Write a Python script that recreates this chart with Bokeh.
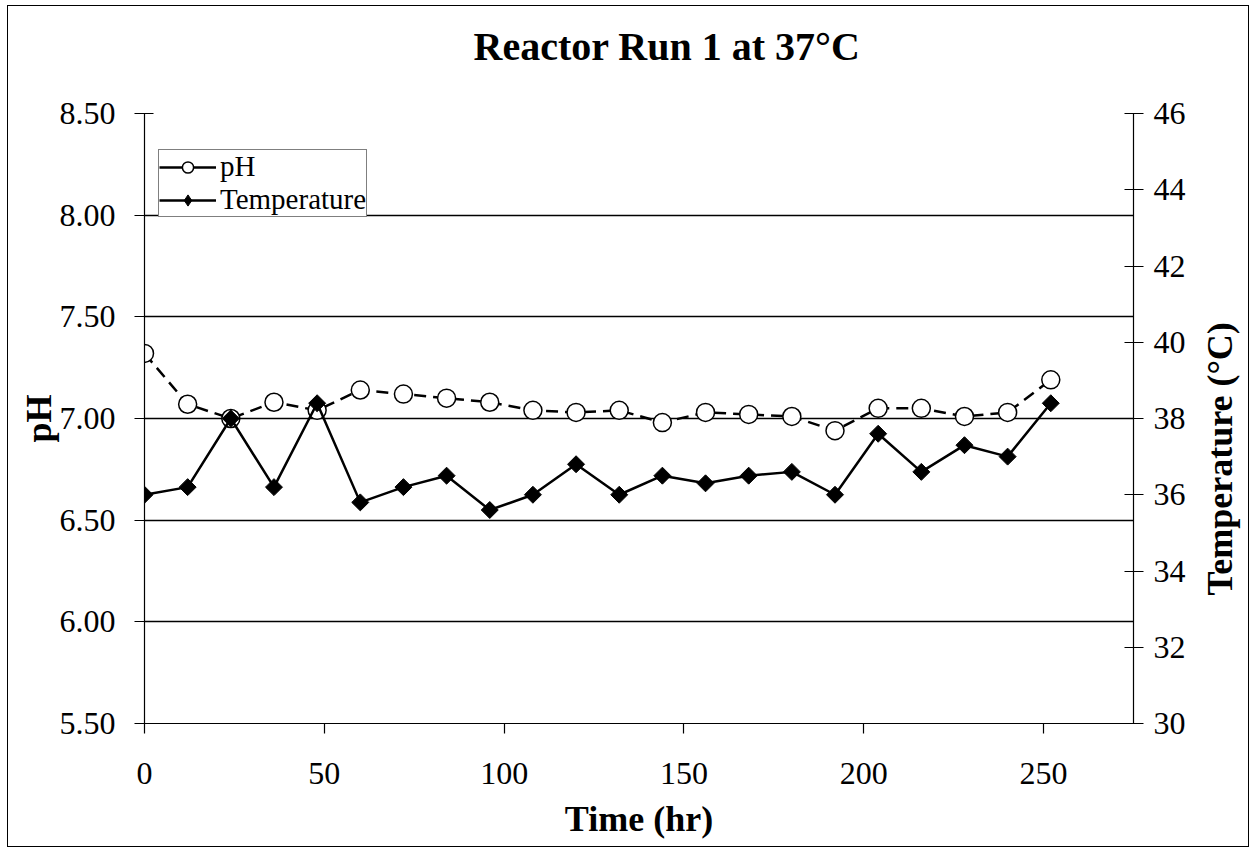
import math
from bokeh.plotting import figure
from bokeh.layouts import row, column
from bokeh.models import (Range1d, LinearAxis, FixedTicker, NumeralTickFormatter,
                          Legend, LegendItem)
from bokeh.embed import file_html
from bokeh.resources import INLINE

# ---- data ----
time_hr = [0, 12, 24, 36, 48, 60, 72, 84, 96, 108, 120, 132, 144, 156, 168,
           180, 192, 204, 216, 228, 240, 252]
ph = [7.32, 7.07, 7.00, 7.08, 7.04, 7.14, 7.12, 7.10, 7.08, 7.04, 7.03, 7.04,
      6.98, 7.03, 7.02, 7.01, 6.94, 7.05, 7.05, 7.01, 7.03, 7.19]
temp_c = [36.0, 36.2, 38.0, 36.2, 38.4, 35.8, 36.2, 36.5, 35.6, 36.0, 36.8, 36.0,
          36.5, 36.3, 36.5, 36.6, 36.0, 37.6, 36.6, 37.3, 37.0, 38.4]
x_ticks = [0, 50, 100, 150, 200, 250]
ph_ticks = [5.5, 6.0, 6.5, 7.0, 7.5, 8.0, 8.5]
temp_ticks = [30, 32, 34, 36, 38, 40, 42, 44, 46]

FONT = "Liberation Serif"

# ---- title strip (page y 6..96) ----
strip = figure(width=1240, height=90, output_backend="svg", toolbar_location=None,
               x_axis_type=None, y_axis_type=None,
               title="Reactor Run 1 at 37°C", title_location="above",
               min_border_left=0, min_border_right=0,
               min_border_top=0, min_border_bottom=0)
strip.outline_line_color = None
strip.background_fill_color = "white"
strip.border_fill_color = "white"
strip.title.text_font = FONT
strip.title.text_font_size = "40px"
strip.title.text_font_style = "bold"
strip.title.text_color = "black"
strip.title.align = "left"
strip.title.offset = 465
strip.title.standoff = 30

# ---- main chart (page x 8..1193, y 96..846) ----
p = figure(width=1185, height=750, output_backend="svg", toolbar_location=None,
           x_range=Range1d(0, 275), y_range=Range1d(5.5, 8.5),
           min_border_left=136, min_border_right=60,
           min_border_top=17, min_border_bottom=123)
p.outline_line_color = None
p.background_fill_color = "white"
p.border_fill_color = "white"

# x axis
xa = p.below[0]
xa.ticker = FixedTicker(ticks=x_ticks)
xa.axis_label = "Time (hr)"
xa.axis_label_text_font = FONT
xa.axis_label_text_font_size = "36px"
xa.axis_label_text_font_style = "bold"
xa.axis_label_text_color = "black"
xa.axis_label_standoff = 12
xa.major_label_text_font = FONT
xa.major_label_text_font_size = "32px"
xa.major_label_text_color = "black"
xa.major_label_standoff = 29
xa.major_tick_in = 0
xa.major_tick_out = 10
xa.minor_tick_line_color = None
xa.axis_line_color = "black"
xa.axis_line_width = 1.2
xa.major_tick_line_width = 1.2

# left axis
ya = p.left[0]
ya.ticker = FixedTicker(ticks=ph_ticks)
ya.formatter = NumeralTickFormatter(format="0.00")
ya.axis_label = "pH"
ya.axis_label_text_font = FONT
ya.axis_label_text_font_size = "36px"
ya.axis_label_text_font_style = "bold"
ya.axis_label_text_color = "black"
ya.axis_label_standoff = -2
ya.major_label_text_font = FONT
ya.major_label_text_font_size = "32px"
ya.major_label_text_color = "black"
ya.major_label_standoff = 19
ya.major_tick_in = 9
ya.major_tick_out = 10
ya.minor_tick_line_color = None
ya.axis_line_width = 1.2
ya.major_tick_line_width = 1.2

# right axis (ticks and numbers)
p.extra_y_ranges = {"temp": Range1d(30, 46)}
ra = LinearAxis(y_range_name="temp")
ra.ticker = FixedTicker(ticks=temp_ticks)
ra.major_label_text_font = FONT
ra.major_label_text_font_size = "32px"
ra.major_label_text_color = "black"
ra.major_label_standoff = 10
ra.major_tick_in = 9
ra.major_tick_out = 10
ra.minor_tick_line_color = None
ra.axis_line_width = 1.2
ra.major_tick_line_width = 1.2
p.add_layout(ra, "right")

# grid
p.xgrid.visible = False
p.ygrid.ticker = FixedTicker(ticks=ph_ticks)
p.ygrid.grid_line_color = "black"
p.ygrid.grid_line_width = 1.3

# series
r1 = p.line(time_hr, ph, line_dash="12 7", line_width=2.5, line_color="black")
c1 = p.scatter(time_hr, ph, marker="circle", size=18, fill_color="white",
               line_color="black", line_width=1.5)
r2 = p.line(time_hr, temp_c, y_range_name="temp", line_width=2.5, line_color="black")
s2 = p.scatter(time_hr, temp_c, y_range_name="temp", marker="square", size=12,
               angle=math.pi / 4, fill_color="black", line_color="black", line_width=1)

# legend-only proxies (solid line sample and diamond symbol as in the original key),
# each holding one point far outside the visible ranges
lp = p.line(x=[-1000, -999], y=[-1000, -1000], line_width=2.5, line_color="black")
lc = p.scatter(x=[-1000], y=[-1000], marker="circle", size=16, fill_color="white",
               line_color="black", line_width=1.5)
ld = p.scatter(x=[-1000], y=[-1000], marker="diamond", size=24, fill_color="black",
               line_color="black", line_width=1)

legend = Legend(items=[LegendItem(label="pH", renderers=[lp, lc]),
                       LegendItem(label="Temperature", renderers=[lp, ld])],
                location=(14, 506))
legend.label_text_font = FONT
legend.label_text_font_size = "29px"
legend.label_text_color = "black"
legend.padding = 0
legend.spacing = 0
legend.margin = 0
legend.glyph_width = 57
legend.glyph_height = 28
legend.label_standoff = 4
legend.label_height = 28
legend.border_line_color = "black"
legend.border_line_width = 1.5
legend.background_fill_color = "white"
legend.background_fill_alpha = 1.0
p.add_layout(legend)

# ---- narrow side strip carrying the right-hand axis title (reads bottom-to-top) ----
side = figure(width=55, height=750, output_backend="svg", toolbar_location=None,
              x_axis_type=None, y_axis_type=None,
              title="Temperature (°C)", title_location="left",
              min_border_left=46, min_border_right=0,
              min_border_top=0, min_border_bottom=0)
side.outline_line_color = None
side.background_fill_color = "white"
side.border_fill_color = "white"
side.title.text_font = FONT
side.title.text_font_size = "36px"
side.title.text_font_style = "bold"
side.title.text_color = "black"
side.title.align = "left"
side.title.offset = 128
side.title.standoff = 0

layout = column(strip, row(p, side, spacing=0), spacing=0)
layout.margin = (6, 0, 0, 8)
layout.styles = {"outline": "1.5px solid black", "outline-offset": "0px"}

open("out.html", "w").write(file_html(layout, INLINE))
